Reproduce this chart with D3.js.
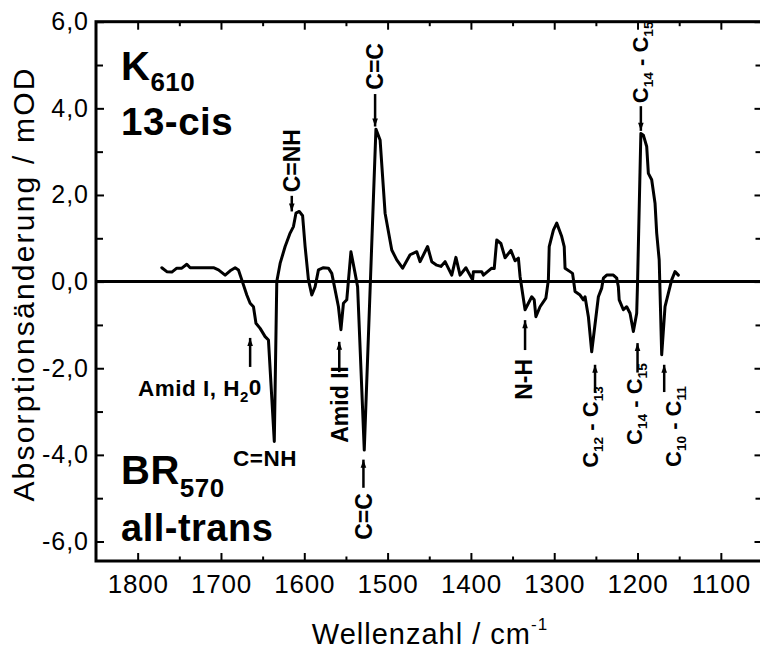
<!DOCTYPE html>
<html><head><meta charset="utf-8">
<script src="https://cdn.jsdelivr.net/npm/d3@7"></script>
<style>
html,body{margin:0;padding:0;background:#fff;}
svg{display:block;}
text{font-family:"Liberation Sans",Arial,Helvetica,sans-serif;fill:#000;}
.b{font-weight:bold;}
</style></head>
<body>
<svg id="c" width="760" height="655"></svg>
<script>
// ---- data ----
const wavenumber = [1771,1765,1759,1753,1747,1741,1737,1709,1703,1695,1689,1683,1679,1675,1669,1665,1661,1658,1653,1647,1643,1636,1633,1629,1623,1617,1613,1610,1606,1602,1599,1595,1591,1587,1583,1577,1571,1567,1563,1559,1556,1553,1549,1544,1539,1536,1528,1514,1509,1503,1495,1489,1482,1473,1465,1461,1452,1447,1441,1436,1431,1423,1418,1413,1406,1398,1397,1387,1385,1375,1372,1369,1364,1359,1352,1347,1343,1341,1338,1335,1331,1327,1324,1322,1317,1310,1307,1306,1301,1297,1291,1288,1287,1281,1278,1275,1269,1265,1263,1259,1255,1247,1243,1241,1237,1229,1225,1223,1222,1217,1213,1209,1205,1201,1200,1196,1193,1189,1187,1183,1179,1177,1174,1171,1167,1162,1159,1155,1151];
const absorbance = [0.32,0.23,0.22,0.31,0.31,0.40,0.32,0.32,0.27,0.15,0.25,0.32,0.27,0.04,-0.31,-0.50,-0.58,-0.96,-1.08,-1.27,-1.35,-3.69,0.0,0.42,0.81,1.12,1.27,1.58,1.62,1.52,0.81,0.04,-0.31,-0.12,0.27,0.32,0.31,0.19,-0.19,-0.58,-1.11,-0.50,-0.42,0.69,0.19,-0.12,-3.89,3.52,3.27,1.58,0.73,0.50,0.31,0.62,0.69,0.46,0.81,0.46,0.38,0.35,0.46,0.15,0.56,0.15,0.32,0.04,0.23,0.23,0.15,0.31,0.30,0.96,0.88,0.55,0.72,0.48,0.54,0.12,-0.27,-0.65,-0.50,-0.35,-0.42,-0.81,-0.58,-0.38,0.04,0.81,1.19,1.35,1.04,0.81,0.31,0.23,0.19,-0.23,-0.31,-0.42,-0.35,-0.81,-1.62,-0.35,-0.15,0.08,0.15,0.15,0.08,-0.12,-0.42,-0.65,-0.58,-0.73,-1.15,-0.73,-0.04,3.42,3.38,3.12,2.50,2.35,1.81,1.12,0.50,-1.69,-0.58,-0.19,0.04,0.23,0.15];
const xMajorTicks = [1800,1700,1600,1500,1400,1300,1200,1100];
const xMinorTicks = [1750,1650,1550,1450,1350,1250,1150,1050];
const yMajorTicks = [-6,-4,-2,0,2,4,6];
const yMinorTicks = [-5,-3,-1,1,3,5];
const yTickLabels = ["-6,0","-4,0","-2,0","0,0","2,0","4,0","6,0"];

// ---- layout ----
const L = 96, R = 762.5, T = 21.7, B = 561;
const svg = d3.select("#c");
svg.append("rect").attr("width",760).attr("height",655).attr("fill","#fff");
const x = d3.scaleLinear().domain([1850,1050]).range([L,R]);
const y = d3.scaleLinear().domain([-6.45,6]).range([B,T]);

const defs = svg.append("defs");
defs.append("marker").attr("id","ah").attr("viewBox","0 0 10 10")
  .attr("refX",10).attr("refY",5).attr("markerWidth",10).attr("markerHeight",8)
  .attr("markerUnits","userSpaceOnUse").attr("orient","auto")
  .append("path").attr("d","M0,1.5 L10,5 L0,8.5 Z").attr("fill","#000");

function styleAxis(g){ g.select(".domain").remove(); g.selectAll("line").attr("stroke","#000").attr("stroke-width",2); }

// bottom
const gB = svg.append("g").attr("transform",`translate(0,${B})`);
gB.call(d3.axisBottom(x).tickValues(xMajorTicks).tickSize(-8).tickPadding(14).tickFormat(d3.format("d")));
styleAxis(gB);
gB.selectAll("text").attr("font-size",26).attr("font-family",'"Liberation Sans",Arial,sans-serif').attr("letter-spacing","0.8px");
const gBm = svg.append("g").attr("transform",`translate(0,${B})`);
gBm.call(d3.axisBottom(x).tickValues(xMinorTicks).tickSize(-4.5).tickFormat(""));
styleAxis(gBm);
// top
const gT = svg.append("g").attr("transform",`translate(0,${T})`);
gT.call(d3.axisTop(x).tickValues(xMajorTicks).tickSize(-8).tickFormat(""));
styleAxis(gT);
const gTm = svg.append("g").attr("transform",`translate(0,${T})`);
gTm.call(d3.axisTop(x).tickValues(xMinorTicks).tickSize(-4.5).tickFormat(""));
styleAxis(gTm);
// left
const gL = svg.append("g").attr("transform",`translate(${L},0)`);
gL.call(d3.axisLeft(y).tickValues(yMajorTicks).tickSize(-8).tickPadding(7).tickFormat((d,i)=>yTickLabels[i]));
styleAxis(gL);
gL.selectAll("text").attr("font-size",25).attr("font-family",'"Liberation Sans",Arial,sans-serif').attr("letter-spacing","1px");
const gLm = svg.append("g").attr("transform",`translate(${L},0)`);
gLm.call(d3.axisLeft(y).tickValues(yMinorTicks).tickSize(-7).tickFormat(""));
styleAxis(gLm);
// right
const gR = svg.append("g").attr("transform",`translate(${R},0)`);
gR.call(d3.axisRight(y).tickValues(yMajorTicks).tickSize(-8).tickFormat(""));
styleAxis(gR);
const gRm = svg.append("g").attr("transform",`translate(${R},0)`);
gRm.call(d3.axisRight(y).tickValues(yMinorTicks).tickSize(-7).tickFormat(""));
styleAxis(gRm);

// frame
svg.append("rect").attr("x",L).attr("y",T).attr("width",R-L).attr("height",B-T)
  .attr("fill","none").attr("stroke","#000").attr("stroke-width",3);
// zero line
svg.append("line").attr("x1",L).attr("x2",R).attr("y1",y(0)).attr("y2",y(0))
  .attr("stroke","#000").attr("stroke-width",3);

// spectrum
const pts = wavenumber.map((w,i)=>[w,absorbance[i]]);
svg.append("path").datum(pts)
  .attr("d",d3.line().x(d=>x(d[0])).y(d=>y(d[1])))
  .attr("fill","none").attr("stroke","#000").attr("stroke-width",3)
  .attr("stroke-linejoin","round").attr("stroke-linecap","round");

// axis titles
svg.append("text").attr("transform",`translate(34,284) rotate(-90)`)
  .attr("text-anchor","middle").attr("font-size",30).attr("letter-spacing","2.2px")
  .text("Absorptionsänderung / mOD");
const xl = svg.append("text").attr("x",430).attr("y",644).attr("text-anchor","middle")
  .attr("font-size",29).attr("letter-spacing","1px");
xl.append("tspan").text("Wellenzahl / cm");
xl.append("tspan").attr("dy",-14).attr("font-size",17).text("-1");

// arrows (wavenumber, from value, to value)
function arrow(w, v1, v2){
  svg.append("line").attr("x1",x(w)).attr("x2",x(w)).attr("y1",y(v1)).attr("y2",y(v2))
    .attr("stroke","#000").attr("stroke-width",2.5).attr("marker-end","url(#ah)");
}
// rotated label: parts [[text, isSub]]
function rlabel(cx, startY, parts, fs){
  fs = fs || 22;
  const t = svg.append("text").attr("class","b")
    .attr("transform",`translate(${cx + 0.36*fs},${startY}) rotate(-90)`)
    .attr("font-size",fs);
  let sub = false;
  parts.forEach(p=>{
    const ts = t.append("tspan").text(p[0]);
    if(p[1] && !sub){ ts.attr("dy",5).attr("font-size",fs*0.62); sub = true; }
    else if(p[1] && sub){ ts.attr("font-size",fs*0.62); }
    else if(!p[1] && sub){ ts.attr("dy",-5); sub = false; }
  });
}
function hlabel(px, py, parts, fs, anchor){
  const t = svg.append("text").attr("class","b").attr("x",px).attr("y",py)
    .attr("font-size",fs).attr("text-anchor",anchor||"start").attr("letter-spacing","0.5px");
  let sub=false;
  parts.forEach(p=>{
    const ts = t.append("tspan").text(p[0]);
    if(p[1]){ ts.attr("dy",sub?0:p[2]||7).attr("font-size",p[3]||fs*0.68); sub=true; }
    else if(sub){ ts.attr("dy",-(p[2]||7)); sub=false; }
  });
  return t;
}

// upper annotations
arrow(1615, 1.98, 1.62);
rlabel(x(1615), y(2.06), [["C=NH"]], 23);
arrow(1515, 4.33, 3.58);
rlabel(x(1515), y(4.43), [["C=C"]], 23);
arrow(1196, 4.05, 3.48);
rlabel(x(1197), y(4.12), [["C"],["14",1],[" - "],["C"],["15",1]]);

// lower annotations
arrow(1665, -1.97, -1.30);
hlabel(138, 396, [["Amid I, H"],["2",1,6,15],["0"]], 22.5);
hlabel(265, 466, [["C=NH"]], 22.5, "middle");
arrow(1558, -2.09, -1.39);
rlabel(x(1558), y(-3.72), [["Amid II"]], 23);
arrow(1529, -4.76, -4.11);
rlabel(x(1529), y(-5.96), [["C=C"]], 23);
arrow(1335, -1.58, -0.89);
rlabel(x(1337), y(-2.73), [["N-H"]], 23);
arrow(1251, -2.57, -1.92);
rlabel(590.5, y(-4.30), [["C"],["12",1],[" - "],["C"],["13",1]]);
arrow(1200, -2.10, -1.42);
rlabel(634, y(-3.77), [["C"],["14",1],[" - "],["C"],["15",1]]);
arrow(1168, -2.55, -1.92);
rlabel(673.5, y(-4.28), [["C"],["10",1],[" - "],["C"],["11",1]]);

// state labels
hlabel(121, 80, [["K"],["610",1,11,26]], 40);
hlabel(121, 135, [["13-cis"]], 38.5);
hlabel(121, 484, [["BR"],["570",1,13,26]], 40);
hlabel(121, 541, [["all-trans"]], 38);
</script>
</body></html>
